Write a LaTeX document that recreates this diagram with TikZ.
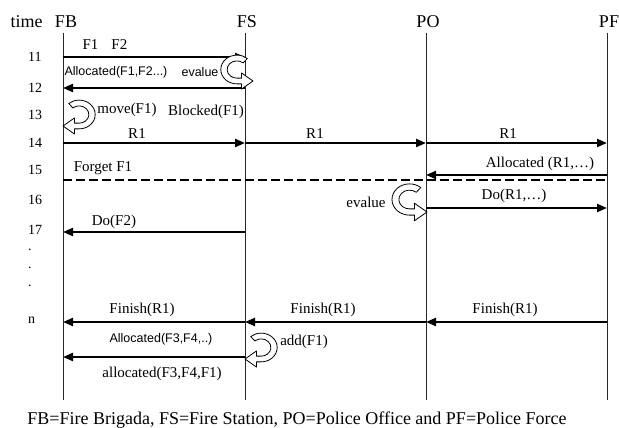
\documentclass[tikz,border=0pt]{standalone}
\usepackage{fontspec}
\setmainfont{Liberation Serif}
\newfontfamily\arialfont{Liberation Sans}
\usetikzlibrary{arrows.meta}

\tikzset{
  lifeline/.style={line width=0.8pt,black!85},
  msg/.style={line width=2.2pt,-{Triangle[length=10pt,width=8pt]}},
  lbl/.style={font=\fontsize{15}{18}\selectfont,inner sep=0pt},
  slbl/.style={font=\arialfont\fontsize{12.5}{15}\selectfont,inner sep=0pt},
  hdr/.style={font=\fontsize{18}{21}\selectfont,inner sep=0pt},
  tnum/.style={font=\fontsize{14}{16}\selectfont,inner sep=0pt,anchor=west},
  pics/turn/.style={code={
    \draw[line width=0.8pt,fill=white,line join=round]
      (0,0) -- (-10,-7) -- (-10,-2.5) -- (-14,-2.5)
      arc[start angle=270,end angle=50,x radius=14,y radius=12.5]
      -- (-8.53,15.74) arc[start angle=50,end angle=270,x radius=8.5,y radius=7.5]
      -- (-10,2.5) -- (-10,7) -- cycle;}}
}

\begin{document}
\begin{tikzpicture}[x=1pt,y=-1pt]
\useasboundingbox (0,0) rectangle (619,428);

% Headers
\node[hdr] (time) at (26.5,22) {time};
\node[hdr] (hFB) at (66,22) {FB};
\node[hdr] (hFS) at (247,22) {FS};
\node[hdr] (hPO) at (428,22) {PO};
\node[hdr] (hPF) at (609,22) {PF};

% Lifelines
\coordinate (FB) at (63,33);
\coordinate (FS) at (245,33);
\coordinate (PO) at (426,33);
\coordinate (PF) at (607,33);
\foreach \n/\y in {r11/57,r12/88,r14/143,r15/175,r15d/180,r16/208,r17/232,rn/322,rn2/357,bot/400}
  \coordinate (\n) at (0,\y);
\foreach \l in {FB,FS,PO,PF}
  \draw[lifeline] (\l) -- (\l |- bot);

% Time column
\foreach \t/\y in {11/57,12/88,13/115,14/143,15/170,16/200,17/230,n/320}
  \node[tnum] (t\t) at (28,\y) {\t};
\foreach \y [count=\i] in {250,268,286}
  \node[tnum] (dot\i) at (28,\y) {.};

% 11 - 12
\draw[msg] (FB |- r11) -- (FS |- r11);
\node[lbl] (f1f2) at (105,45) {F1\hspace{13pt}F2};
\draw[msg] (FS |- r12) -- (FB |- r12);
\node[slbl] (alloc1) at (116,72) {Allocated(F1,F2...)};
\node[slbl] (eval1) at (200,72) {evalue};
\pic[yscale=-1,scale=1.15] at (253,81) {turn};

% 13
\pic[xscale=-1,yscale=-1,scale=1.15] at (63,126) {turn};
\node[lbl] (move) at (127,110) {move(F1)};
\node[lbl] (blocked) at (206,112) {Blocked(F1)};

% 14
\draw[msg] (FB |- r14) -- (FS |- r14);
\draw[msg] (FS |- r14) -- (PO |- r14);
\draw[msg] (PO |- r14) -- (PF |- r14);
\node[lbl] (ra) at (137,134) {R1};
\node[lbl] (rb) at (315,134) {R1};
\node[lbl] (rc) at (508,134) {R1};

% 15
\draw[line width=2pt,dash pattern=on 9pt off 4pt] (FB |- r15d) -- (PF |- r15d);
\node[lbl] (forget) at (103,168) {Forget F1};
\draw[msg] (PF |- r15) -- (PO |- r15);
\node[lbl] (alloc2) at (540,164) {Allocated (R1,\ldots)};

% 16
\draw[msg] (PO |- r16) -- (PF |- r16);
\node[lbl] (dor) at (514,196) {Do(R1,\ldots)};
\node[lbl] (eval2) at (366,202) {evalue};
\pic[yscale=-1,scale=1.25] at (427,212) {turn};

% 17
\draw[msg] (FS |- r17) -- (FB |- r17);
\node[lbl] (dof) at (114,222) {Do(F2)};

% n
\draw[msg] (FS |- rn) -- (FB |- rn);
\draw[msg] (PO |- rn) -- (FS |- rn);
\draw[msg] (PF |- rn) -- (PO |- rn);
\node[lbl] (fina) at (142,310) {Finish(R1)};
\node[lbl] (finb) at (323,310) {Finish(R1)};
\node[lbl] (finc) at (505,310) {Finish(R1)};
\draw[msg] (FS |- rn2) -- (FB |- rn2);
\node[slbl] (alloc3) at (161,339) {Allocated(F3,F4,..)};
\pic[xscale=-1,yscale=-1,scale=1.15] at (245,359) {turn};
\node[lbl] (add) at (304,342) {add(F1)};
\node[lbl] (alloc4) at (162,374) {allocated(F3,F4,F1)};

% Legend
\node[hdr] (legend) at (297,420) {FB=Fire Brigada, FS=Fire Station, PO=Police Office and PF=Police Force};
\end{tikzpicture}
\end{document}
